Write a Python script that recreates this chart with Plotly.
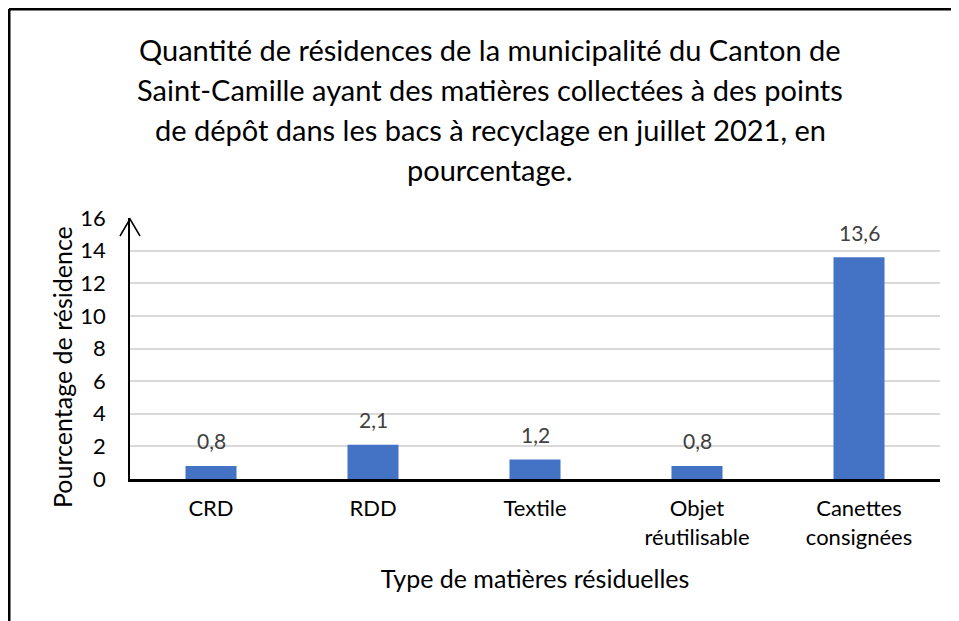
import plotly.graph_objects as go

categories = ["CRD", "RDD", "Textile", "Objet<br>réutilisable", "Canettes<br>consignées"]
values = [0.8, 2.1, 1.2, 0.8, 13.6]
value_labels = ["0,8", "2,1", "1,2", "0,8", "13,6"]
y_ticks = [0, 2, 4, 6, 8, 10, 12, 14, 16]

title_lines = [
    "Quantité de résidences de la municipalité du Canton de",
    "Saint-Camille ayant des matières collectées à des points",
    "de dépôt dans les bacs à recyclage en juillet 2021, en",
    "pourcentage.",
]
y_title = "Pourcentage de résidence"
x_title = "Type de matières résiduelles"

# page body has an 8px margin, so work in figure coordinates = viewport - 8
OFF = 8
W, H = 959 - OFF, 621 - OFF
L, T = 130 - OFF, 218 - OFF
R = W - (940 - OFF)
B = H - (479 - OFF)
pw, ph = W - L - R, H - T - B

def px(x):  # viewport x -> paper
    return (x - OFF - L) / pw

def py(y):  # viewport y -> paper
    return (H - B - (y - OFF)) / ph

FONT = "Lato, 'Open Sans', sans-serif"

fig = go.Figure(go.Bar(
    x=categories, y=values,
    marker=dict(color="#4472C4", line=dict(width=0)),
    cliponaxis=False, width=0.315,
))

annotations = []
for i, line in enumerate(title_lines):
    annotations.append(dict(
        text=line, xref="paper", yref="paper", x=px(490), y=py(49 + 40 * i),
        xanchor="center", yanchor="middle", showarrow=False,
        font=dict(size=29, color="#000000", family=FONT),
    ))
for c, v, lab in zip(categories, values, value_labels):
    annotations.append(dict(
        text=lab, x=c, y=v, xref="x", yref="y", xanchor="center", yanchor="middle",
        yshift=25, showarrow=False,
        font=dict(size=21, color="#404040", family=FONT),
    ))
annotations.append(dict(
    text=y_title, xref="paper", yref="paper", x=px(62), y=py(367),
    xanchor="center", yanchor="middle", textangle=-90, showarrow=False,
    font=dict(size=25, color="#000000", family=FONT),
))

shapes = [
    # outer border (left and top)
    dict(type="line", xref="paper", yref="paper", x0=px(9), x1=px(9), y0=py(9), y1=py(640),
         line=dict(color="black", width=3)),
    dict(type="line", xref="paper", yref="paper", x0=px(9), x1=px(980), y0=py(9), y1=py(9),
         line=dict(color="black", width=3)),
    # arrow head on y axis
    dict(type="path", xref="paper", yref="paper",
         path=f"M {px(120)} {py(236)} L {px(130)} {py(219)} L {px(140)} {py(236)}",
         line=dict(color="black", width=1.5)),
]

fig.update_layout(
    width=W, height=H,
    margin=dict(l=L, r=R, t=T, b=B, autoexpand=False),
    paper_bgcolor="white", plot_bgcolor="white",
    showlegend=False,
    annotations=annotations,
    shapes=shapes,
    font=dict(family=FONT, color="#000000"),
)
fig.update_yaxes(
    range=[0, 16], tickvals=y_ticks, ticktext=[str(t) for t in y_ticks],
    showgrid=True, gridcolor="#D9D9D9", gridwidth=1.5,
    showline=True, linecolor="black", linewidth=1.5,
    ticks="", ticklabelstandoff=18,
    tickfont=dict(size=22, color="#000000", family=FONT),
    zeroline=False,
)
fig.update_xaxes(
    showline=True, linecolor="black", linewidth=2.5,
    ticks="", tickfont=dict(size=22, color="#000000", family=FONT),
    ticklabelstandoff=8,
    title=dict(text=x_title, font=dict(size=25, color="#000000", family=FONT), standoff=22),
)

fig.write_html("out.html")
